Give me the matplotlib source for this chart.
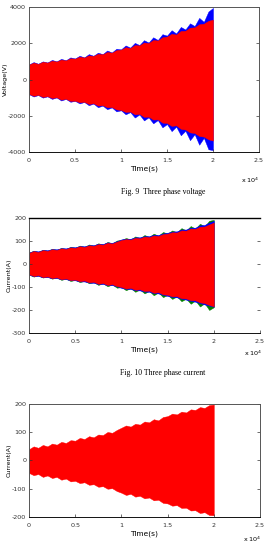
import numpy as np
import matplotlib
matplotlib.use("Agg")
import matplotlib.pyplot as plt

# time grid (x 10^4 s) shared by every envelope below
time = np.linspace(0, 2, 41)

# Fig. 9 - three phase voltage envelopes (V)
v_red_up = [820, 930, 860, 980, 930, 1040, 990, 1100, 1050, 1170, 1150, 1260, 1210, 1330, 1300, 1420,
            1390, 1520, 1480, 1620, 1650, 1780, 1740, 1900, 1880, 2040, 2010, 2180, 2150, 2330, 2370,
            2520, 2480, 2680, 2690, 2860, 2880, 3050, 3080, 3240, 3300]
v_red_lo = [-800, -900, -850, -960, -920, -1020, -980, -1110, -1060, -1180, -1170, -1260, -1230, -1350,
            -1310, -1440, -1420, -1530, -1520, -1650, -1680, -1790, -1770, -1920, -1900, -2060, -2050,
            -2210, -2200, -2380, -2400, -2560, -2530, -2720, -2760, -2920, -2950, -3120, -3150, -3300, -3370]
v_blue_up = [830, 960, 870, 1000, 940, 1080, 1000, 1140, 1060, 1220, 1160, 1310, 1220, 1400, 1310, 1480,
             1400, 1600, 1490, 1700, 1660, 1880, 1760, 2020, 1900, 2170, 2040, 2330, 2180, 2500, 2420,
             2720, 2540, 2900, 2760, 3100, 2950, 3400, 3180, 3750, 3950]
v_blue_lo = [-810, -940, -860, -1000, -930, -1070, -990, -1160, -1070, -1230, -1180, -1320, -1240, -1420,
             -1330, -1530, -1440, -1640, -1540, -1760, -1700, -1920, -1800, -2100, -1930, -2260, -2090,
             -2420, -2240, -2640, -2460, -2850, -2600, -3080, -2830, -3350, -3020, -3600, -3220, -3850, -3900]

# Fig. 10 - three phase current envelopes (A)
c_red_up = [48, 56, 52, 60, 57, 64, 61, 68, 65, 72, 70, 77, 74, 81, 79, 86, 84, 92, 89, 97, 104, 108,
            106, 114, 112, 119, 117, 124, 122, 130, 132, 138, 137, 146, 145, 154, 153, 162, 163, 172, 180]
c_red_lo = [-45, -52, -49, -57, -54, -61, -58, -66, -63, -70, -68, -75, -72, -80, -78, -86, -83, -91, -88,
            -96, -100, -107, -104, -112, -110, -118, -116, -125, -123, -132, -134, -141, -140, -149, -150,
            -158, -158, -167, -170, -178, -184]
c_green_up = [49, 58, 53, 62, 58, 66, 62, 70, 66, 75, 71, 80, 75, 85, 80, 90, 85, 96, 90, 102, 105, 113,
              107, 120, 113, 126, 118, 132, 123, 139, 133, 146, 138, 156, 146, 165, 154, 175, 164, 188, 192]
c_green_lo = [-46, -55, -50, -59, -55, -64, -59, -69, -64, -74, -69, -79, -73, -84, -79, -91, -84, -97, -89,
              -103, -101, -114, -105, -121, -111, -128, -117, -136, -124, -144, -135, -152, -141, -162,
              -151, -173, -159, -185, -171, -200, -188]
c_blue_up = [50, 57, 55, 61, 60, 65, 64, 69, 68, 73, 73, 78, 77, 82, 82, 88, 87, 94, 92, 99, 107, 110,
             110, 116, 116, 121, 121, 127, 126, 133, 136, 141, 142, 150, 150, 158, 158, 168, 170, 180, 188]
c_blue_lo = [-47, -53, -52, -58, -57, -62, -61, -67, -66, -71, -71, -76, -76, -81, -82, -87, -87, -92, -92,
             -97, -104, -108, -109, -114, -115, -120, -121, -127, -128, -134, -139, -143, -145, -151, -155,
             -160, -164, -170, -176, -181, -186]

# third plot - current envelope (A)
p3_up = [40, 50, 45, 55, 50, 60, 56, 66, 62, 72, 70, 80, 76, 86, 82, 92, 90, 101, 98, 108, 116, 124,
         120, 130, 127, 138, 135, 146, 142, 154, 157, 166, 163, 173, 170, 181, 179, 189, 186, 196, 198]
p3_lo = [-44, -52, -48, -58, -53, -62, -58, -68, -64, -74, -72, -80, -77, -86, -84, -93, -91, -100, -98,
         -108, -114, -122, -118, -128, -125, -134, -131, -141, -139, -150, -152, -160, -158, -168, -167,
         -177, -176, -186, -183, -193, -194]

x_ticks = [0, 0.5, 1, 1.5, 2, 2.5]
x_labels = ["0", "0.5", "1", "1.5", "2", "2.5"]

plt.rcParams['font.family'] = ['Liberation Sans Narrow', 'DejaVu Sans']
SMALL = 4.6

fig = plt.figure(figsize=(2.66, 5.44), dpi=100)


def style_axes(ax, yticks, ylabel, xlabel):
    ax.set_xlim(0, 2.5)
    ax.set_xticks(x_ticks)
    ax.set_xticklabels(x_labels)
    ax.set_yticks(yticks)
    ax.set_yticklabels([str(v) for v in yticks])
    ax.set_ylim(yticks[0], yticks[-1])
    ax.tick_params(direction='in', length=2, width=0.5, labelsize=SMALL, pad=2,
                   top=False, right=True, colors='#333333')
    ax.tick_params(axis='x', pad=4)
    for s in ax.spines.values():
        s.set_linewidth(0.7)
        s.set_color('#555555')
    ax.spines['bottom'].set_color('#111111')
    ax.set_ylabel(ylabel, fontsize=SMALL, labelpad=0)
    ax.set_xlabel(xlabel, fontsize=5.4, labelpad=2)


# Fig. 9
ax1 = fig.add_axes([29 / 266, 1 - 152 / 544, 230 / 266, 145 / 544])
ax1.fill_between(time, v_blue_lo, v_blue_up, color='#0000ff', lw=0.3, edgecolor='#0000ff')
ax1.fill_between(time, v_red_lo, v_red_up, color='#ff0000', lw=0.3, edgecolor='#ff0000')
style_axes(ax1, [-4000, -2000, 0, 2000, 4000], "Voltage(V)", "Time(s)")
fig.text(250 / 266, 1 - 180 / 544, r"x 10$^4$", fontsize=4.6, ha='center', va='center')
fig.text(163 / 266, 1 - 192 / 544, "Fig. 9  Three phase voltage", fontsize=5.6,
         family='Liberation Serif', ha='center', va='center')

# Fig. 10
ax2 = fig.add_axes([29 / 266, 1 - 333 / 544, 231 / 266, 115 / 544])
ax2.fill_between(time, c_green_lo, c_green_up, color='#008000', lw=0.3, edgecolor='#008000')
ax2.fill_between(time, c_blue_lo, c_blue_up, color='#0000ff', lw=0.3, edgecolor='#0000ff')
ax2.fill_between(time, c_red_lo, c_red_up, color='#ff0000', lw=0.3, edgecolor='#ff0000')
style_axes(ax2, [-300, -200, -100, 0, 100, 200], "Current(A)", "Time(s)")
ax2.spines['top'].set_color('#000000')
ax2.spines['top'].set_linewidth(1.0)
ax2.spines['right'].set_visible(False)
fig.text(253 / 266, 1 - 353 / 544, r"x 10$^4$", fontsize=4.6, ha='center', va='center')
fig.text(163 / 266, 1 - 373 / 544, "Fig. 10 Three phase current", fontsize=5.6,
         family='Liberation Serif', ha='center', va='center')

# third plot
ax3 = fig.add_axes([29 / 266, 1 - 517 / 544, 231 / 266, 113 / 544])
ax3.fill_between(time, p3_lo, p3_up, color='#ff0000', lw=0.3, edgecolor='#ff0000')
style_axes(ax3, [-200, -100, 0, 100, 200], "Current(A)", "Time(s)")
fig.text(252 / 266, 1 - 539 / 544, r"x 10$^4$", fontsize=4.6, ha='center', va='center')

fig.savefig("out.png", dpi=100)
